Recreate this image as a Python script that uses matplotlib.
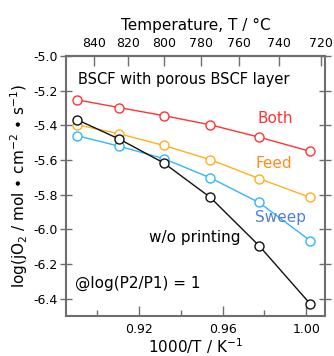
import matplotlib
matplotlib.use("Agg")
import matplotlib.pyplot as plt
import numpy as np

plt.rcParams['font.family'] = ['DejaVu Sans']

# 1000/T values (K^-1) of the measurement points
inv_T = [0.8904, 0.9106, 0.9318, 0.9541, 0.9774, 1.0019]
both = [-5.253, -5.298, -5.344, -5.397, -5.468, -5.550]
feed = [-5.397, -5.449, -5.516, -5.598, -5.707, -5.816]
sweep = [-5.460, -5.521, -5.592, -5.703, -5.845, -6.065]
wo_printing = [-5.368, -5.480, -5.617, -5.816, -6.094, -6.430]

top_ticks_C = [840, 820, 800, 780, 760, 740, 720]
bottom_major = [0.92, 0.96, 1.00]
bottom_minor = [0.90, 0.94, 0.98]
y_ticks = [-5.0, -5.2, -5.4, -5.6, -5.8, -6.0, -6.2, -6.4]

fig = plt.figure(figsize=(3.34, 3.56), dpi=100)
ax = fig.add_axes([66/334, 1-316/356, 259/334, 260/356])

series = [
    (both, '#ff3333'),
    (feed, '#ffb020'),
    (sweep, '#33b5ff'),
    (wo_printing, '#111111'),
]
for vals, c in series:
    ax.plot(inv_T, vals, '-', color=c, lw=1.0, marker='o', ms=6.5,
            mfc='white', mec=c, mew=1.0)

ax.set_xlim(0.885, 1.009)
ax.set_ylim(-6.5, -5.0)
ax.set_xticks(bottom_major)
ax.set_xticks(bottom_minor, minor=True)
ax.set_xticklabels(['%.2f' % v for v in bottom_major])
ax.set_yticks(y_ticks)
ax.set_yticklabels(['%.1f' % v for v in y_ticks])

spine_c = '#6e6e6e'
for s in ax.spines.values():
    s.set_color(spine_c)
    s.set_linewidth(1.5)

ax.tick_params(axis='x', which='major', direction='in', length=7, width=1.0,
               color=spine_c, labelsize=9, pad=5, top=False)
ax.tick_params(axis='x', which='minor', direction='in', length=4, width=1.0,
               color=spine_c, top=False)
ax.tick_params(axis='y', which='major', direction='inout', length=8, width=1.0,
               color=spine_c, labelsize=9, right=True, pad=2)

secx = ax.secondary_xaxis('top', functions=(lambda x: 1000/np.asarray(x, float) - 273.15,
                                              lambda t: 1000/(np.asarray(t, float) + 273.15)))
secx.set_xticks(top_ticks_C)
secx.set_xticklabels([str(t) for t in top_ticks_C])
secx.tick_params(direction='in', length=7, width=1.0, color=spine_c, labelsize=9, pad=4)
secx.spines['top'].set_color(spine_c)
secx.spines['top'].set_linewidth(1.5)
secx.set_xlabel('Temperature, T / °C', fontsize=11, labelpad=5)

ax.set_xlabel('1000/T / K$^{-1}$', fontsize=11, labelpad=0)
ax.set_ylabel('log(jO$_2$ / mol • cm$^{-2}$ • s$^{-1}$)', fontsize=11, labelpad=2)

ax.text(0.046, 0.908, 'BSCF with porous BSCF layer', transform=ax.transAxes,
        fontsize=10.5, ha='left', va='center')
ax.text(0.807, 0.758, 'Both', transform=ax.transAxes, fontsize=11,
        color='#ff3333', ha='center', va='center')
ax.text(0.803, 0.585, 'Feed', transform=ax.transAxes, fontsize=11,
        color='#ff8c1a', ha='center', va='center')
ax.text(0.830, 0.377, 'Sweep', transform=ax.transAxes, fontsize=11,
        color='#4f7fd0', ha='center', va='center')
ax.text(0.498, 0.300, 'w/o printing', transform=ax.transAxes, fontsize=11,
        color='black', ha='center', va='center')
ax.text(0.035, 0.127, '@log(P2/P1) = 1', transform=ax.transAxes, fontsize=11,
        color='black', ha='left', va='center')

fig.savefig('out.png', dpi=100)
